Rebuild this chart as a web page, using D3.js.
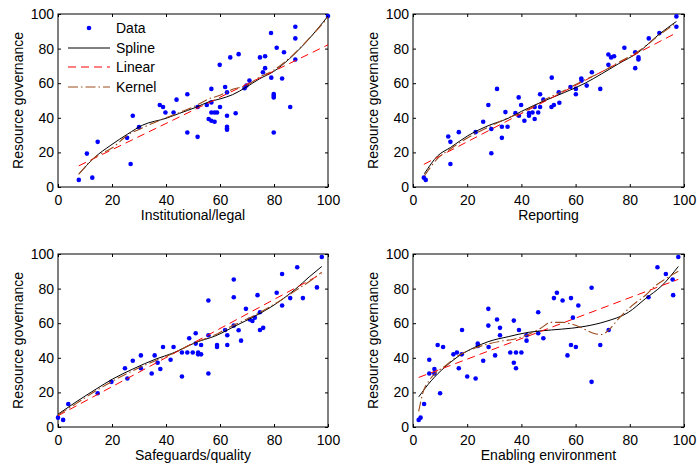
<!DOCTYPE html>
<html><head><meta charset="utf-8">
<script src="https://cdn.jsdelivr.net/npm/d3@7"></script>
<style>
body{margin:0;background:#fff}
svg{display:block}
text{font-family:"Liberation Sans",Arial,sans-serif;fill:#000}
</style></head>
<body><svg id="c" width="697" height="466"></svg>
<script>
// ---------- data ----------
const tickValues = [0, 20, 40, 60, 80, 100];
const yAxisLabel = "Resource governance";
const xLabels = ["Institutional/legal", "Reporting", "Safeguards/quality", "Enabling environment"];
const legendLabels = ["Data", "Spline", "Linear", "Kernel"];

// Panel 1: Institutional/legal
const instX = [7.7,10.7,12.7,14.7,25.6,26.9,27.7,30.0,37.7,38.9,39.8,42.8,43.9,47.9,47.9,51.7,51.7,55.1,56.8,56.8,56.8,58.0,58.9,55.8,56.8,58.0,60.0,59.9,61.9,62.6,62.6,62.6,62.6,62.6,63.8,65.8,66.9,69.1,69.8,70.9,74.8,76.7,76.7,75.9,78.9,79.0,79.9,79.9,79.9,79.9,81.0,83.0,83.7,86.0,87.9,87.9,87.9,100];
const instY = [4.1,19.3,5.4,26.1,28.4,13.3,41.2,34.6,47.4,46.2,43.1,43.1,50.5,53.6,31.5,29.0,46.2,47.4,56.7,48.9,43.1,43.1,43.1,39.3,38.3,37.7,46.2,70.6,57.8,54.7,41.2,34.8,33.8,33.1,74.9,42.6,76.8,57.1,58.6,61.5,74.9,75.6,68.7,66.3,89.0,63.2,53.8,52.8,51.8,31.5,80.5,62.7,77.9,46.2,92.6,85.9,73.7,98.8];
const instSplineX = [7.7,13.5,19.6,25.8,31.4,40,45,51,56,60,64.7,69.6,74.6,79.8,85.7,91.9,100];
const instSplineY = [7.4,17.0,24.2,30.6,35.8,39.7,42.6,46.0,49.3,50.9,53.4,57.6,62.5,66.7,74.1,83.8,98.8];
const instLinear = [6.4, 0.758]; // intercept, slope
const instKernelX = [7.7,13.5,20,25.8,31,40,45,51,56,60,64.7,69.6,74.6,79.8,85.7,91.9,100];
const instKernelY = [7.4,17,22.5,30,34,40,43,47,51,53,56.5,58.5,63.5,67.5,74.5,84,98];

// Panel 2: Reporting
const repX = [4.0,4.7,13.0,13.8,13.8,16.9,23.1,25.9,27.8,28.9,28.9,31.0,32.8,32.8,34.1,34.9,37.8,39.0,39.1,39.9,41.1,42.8,42.8,44.1,44.9,44.9,46.2,46.9,46.9,48.1,51.1,51.2,52.0,53.8,54.0,58.1,60.1,60.1,62.1,62.2,64.1,66.0,69.1,72.1,72.1,73.1,74.2,78.0,82.0,82.0,83.2,83.2,87.0,90.9,97.2,97.2];
const repY = [5.4,4.1,29.2,26.1,13.3,31.7,31.7,37.7,47.4,33.5,19.5,56.7,34.8,28.4,43.3,34.8,42.7,51.8,41.2,47.4,38.3,42.7,41.2,43.1,39.3,46.2,43.1,53.6,46.2,50.5,46.2,63.2,47.4,54.7,48.7,57.8,56.7,53.6,62.7,61.5,58.6,66.3,56.7,76.6,70.6,74.9,75.6,80.5,77.9,68.7,74.9,73.7,85.9,89.0,98.6,92.6];
const repSplineX = [4.2,9.1,13.8,20.2,27.7,35.1,40,48.6,56,63.5,69.6,75.8,83.2,90.6,97.2];
const repSplineY = [7.7,18,22.8,29.6,35.4,39.7,43.7,49.9,54.7,60,65.4,71.2,77.9,88,95.7];
const repLinear = [9.8, 0.816];
const repKernelX = [4.2,9.1,13.8,20.2,27.7,35.1,40,48.6,56,63.5,69.6,75.8,83.2,90.6,97.2];
const repKernelY = [6.5,16.5,22,28.5,34.5,40,43,50.5,56,62,66.5,72,78.5,87.5,95];

// Panel 3: Safeguards/quality
const safeX = [0,1.9,3.8,14.7,19.8,24.8,25.7,27.7,30.7,30.7,34.7,35.8,36.9,37.9,38.9,41.7,42.8,45.9,45.9,47.9,48.6,49.9,51,51,51.9,51.9,53,53,55.7,55.7,55.7,58.9,58.9,61.9,62.7,62.7,65.1,65.1,65.1,66.9,67.8,69.6,71,72,72.9,73.9,74.8,74.8,76.0,81.0,83.0,83.0,86.0,88.6,90.7,95.9,97.7];
const safeY = [5.4,4.1,13.3,19.5,26.1,34.0,28.0,38.3,41.4,34.0,30.9,41.4,37.1,33.5,46.2,38.9,46.2,43.1,29.2,43.1,51.3,43.1,54.2,48.2,43.1,42,42,47.4,73.1,53,30.9,47.4,46.2,56.1,53,47.4,85.3,75.0,58.6,55.9,49.9,68.3,62.1,61.3,63.2,76.2,66.3,56.1,57.3,77.6,88.4,70.2,74.5,92.3,74.5,80.7,98.3];
const safeSplineX = [0,6.7,14.1,20.2,27.7,36.3,42.5,51.1,58.5,65.9,73.3,80.7,88.1,93,97.7];
const safeSplineY = [7.4,14.5,21.9,27.7,33.5,39.3,42.7,48.9,52.8,58.6,64.4,71.2,79.9,86.7,92.8];
const safeLinear = [6.5, 0.84];
const safeKernelX = [0,6.7,14.1,20.2,27.7,36.3,42.5,51.1,58.5,62,66,73.3,80.7,88.1,93,97.7];
const safeKernelY = [7,13.5,21,26.5,32.5,38.5,42.5,49,53.5,56.5,59.5,65,71.5,79,84,89.5];

// Panel 4: Enabling environment
const enabX = [2.1,2.8,4.1,6.0,6.0,7.9,7.9,9.1,10.0,11.1,14.9,16.2,16.9,18.0,18.1,20.0,23.1,23.9,23.9,25.9,27.8,27.8,27.9,30.3,31.0,32.1,32.1,35.9,37.2,37.2,38.0,38.0,39.1,40,41.9,41.9,46.2,46.2,48.1,52,53.1,55.2,57.0,58.3,58.3,59.0,60.1,61.0,65.9,65.9,69.1,72.2,86.9,90.2,93.3,95.8,96.0,97.9];
const enabY = [4.1,5.4,13.3,30.9,38.9,33.5,30.9,47.4,19.5,46.2,42,43.1,34.0,42,56.1,29.2,28.0,48.2,46.8,38.3,58.6,68.3,46.2,41.4,62.1,57.3,53,43.1,61.5,37.1,34.0,43.1,56.1,43.1,49.9,53,66.3,54.2,51.3,74.5,77.6,73.1,41.4,74.5,47.4,63.2,46.2,70.2,80.5,26.1,47.4,56.1,75.0,92.3,88.4,85.3,76.2,98.3];
const enabSplineX = [2.1,6.7,11.6,16.5,22.7,27.7,35.1,42.5,51.1,58.5,63.5,70.9,79.5,85.7,91.9,97.9];
const enabSplineY = [17.4,26.7,34.4,40.6,46,49.3,52.2,54.7,56.1,57.1,58.2,60.9,66.3,74.1,81.8,92.8];
const enabLinear = [27.4, 0.592];
const enabKernelX = [2.1,3.7,6,8.5,11.6,16.5,22.7,27.7,32,38,42.5,47,51,55,58.5,62,66,69.6,72.2,75.8,80.7,85.7,89.4,93.1,97.9];
const enabKernelY = [9,20,27,31.5,35,41,45.5,48,49.5,51,53.5,57,60.5,60.5,59.5,57.5,54.5,53.5,56,62.5,70,76,81.5,85.5,90];

// ---------- drawing ----------
const svg = d3.select("#c");
const panels = [
  {L:58, R:328, T:14, B:187, xl:xLabels[0], px:instX, py:instY, sx:instSplineX, sy:instSplineY, lin:instLinear, kx:instKernelX, ky:instKernelY, legend:true},
  {L:413, R:684, T:14, B:187, xl:xLabels[1], px:repX, py:repY, sx:repSplineX, sy:repSplineY, lin:repLinear, kx:repKernelX, ky:repKernelY},
  {L:58, R:328, T:254, B:427, xl:xLabels[2], px:safeX, py:safeY, sx:safeSplineX, sy:safeSplineY, lin:safeLinear, kx:safeKernelX, ky:safeKernelY},
  {L:413, R:684, T:254, B:427, xl:xLabels[3], px:enabX, py:enabY, sx:enabSplineX, sy:enabSplineY, lin:enabLinear, kx:enabKernelX, ky:enabKernelY}
];
const styles = {
  spline: {stroke:"#000", dash:null},
  linear: {stroke:"#ff0000", dash:"8,5"},
  kernel: {stroke:"#9c4a1a", dash:"10,3,1.5,3"}
};

panels.forEach(p => {
  const x = d3.scaleLinear().domain([0,100]).range([p.L, p.R]);
  const y = d3.scaleLinear().domain([0,100]).range([p.B, p.T]);
  const g = svg.append("g");

  // axes
  const ax = g.append("g").attr("transform", `translate(0,${p.B})`)
    .call(d3.axisBottom(x).tickValues(tickValues).tickSize(-3).tickPadding(8));
  const ay = g.append("g").attr("transform", `translate(${p.L},0)`)
    .call(d3.axisLeft(y).tickValues(tickValues).tickSize(-3).tickPadding(4));
  const at = g.append("g").attr("transform", `translate(0,${p.T})`)
    .call(d3.axisTop(x).tickValues(tickValues).tickSize(-3).tickFormat(""));
  const ar = g.append("g").attr("transform", `translate(${p.R},0)`)
    .call(d3.axisRight(y).tickValues(tickValues).tickSize(-3).tickFormat(""));
  [ax, ay, at, ar].forEach(a => {
    a.select(".domain").remove();
    a.selectAll("line").attr("stroke", "#000");
    a.selectAll("text").attr("font-size", 14).attr("font-family", '"Liberation Sans",Arial,sans-serif').attr("fill", "#000");
  });
  g.append("rect").attr("x", p.L).attr("y", p.T).attr("width", p.R - p.L).attr("height", p.B - p.T)
    .attr("fill", "none").attr("stroke", "#000").attr("stroke-width", 1);

  // labels
  g.append("text").attr("x", (p.L + p.R) / 2).attr("y", p.B + 33).attr("text-anchor", "middle")
    .attr("font-size", 14).text(p.xl);
  g.append("text").attr("transform", `translate(${p.L - 40},${(p.T + p.B) / 2}) rotate(-90)`)
    .attr("text-anchor", "middle").attr("dy", "0.35em").attr("font-size", 14).text(yAxisLabel);

  // data points
  g.append("g").selectAll("circle").data(p.px.map((v, i) => [v, p.py[i]])).join("circle")
    .attr("cx", d => x(d[0])).attr("cy", d => y(d[1])).attr("r", 2.3).attr("fill", "#0000ff");

  const line = d3.line().x(d => x(d[0])).y(d => y(d[1]));
  const sp = p.sx.map((v, i) => [v, p.sy[i]]);
  g.append("path").attr("d", line.curve(d3.curveMonotoneX)(sp)).attr("fill", "none")
    .attr("stroke", styles.spline.stroke).attr("stroke-width", 1);

  const x0 = d3.min(p.px), x1 = d3.max(p.px);
  const lin = [[x0, p.lin[0] + p.lin[1] * x0], [x1, p.lin[0] + p.lin[1] * x1]];
  g.append("path").attr("d", d3.line().x(d => x(d[0])).y(d => y(d[1]))(lin)).attr("fill", "none")
    .attr("stroke", styles.linear.stroke).attr("stroke-width", 1).attr("stroke-dasharray", styles.linear.dash);

  const kp = p.kx.map((v, i) => [v, p.ky[i]]);
  g.append("path").attr("d", d3.line().x(d => x(d[0])).y(d => y(d[1])).curve(d3.curveMonotoneX)(kp)).attr("fill", "none")
    .attr("stroke", styles.kernel.stroke).attr("stroke-width", 1.1).attr("stroke-dasharray", styles.kernel.dash);

  if (p.legend) {
    const lg = g.append("g");
    const rows = [28, 48, 67, 87];
    legendLabels.forEach((lab, i) => {
      lg.append("text").attr("x", 116).attr("y", rows[i]).attr("dy", "0.35em").attr("font-size", 14).text(lab);
    });
    lg.append("circle").attr("cx", 89).attr("cy", rows[0]).attr("r", 2.3).attr("fill", "#0000ff");
    const keys = ["spline", "linear", "kernel"];
    keys.forEach((k, i) => {
      lg.append("line").attr("x1", 68).attr("x2", 110).attr("y1", rows[i + 1]).attr("y2", rows[i + 1])
        .attr("stroke", styles[k].stroke).attr("stroke-width", 1)
        .attr("stroke-dasharray", styles[k].dash);
    });
  }
});
</script></body></html>
